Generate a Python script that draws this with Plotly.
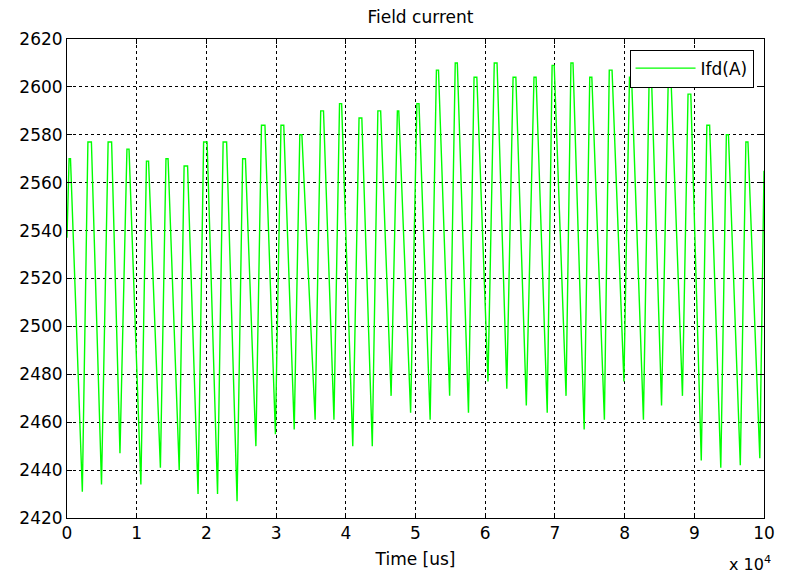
import plotly.graph_objects as go

# Time in units of 1e4 us
start_t = 0.0
start_v = 2537
end_t = 10.0
end_v = 2565

peak_start_t = [0.03, 0.30, 0.59, 0.86, 1.14, 1.42, 1.68, 1.96, 2.24, 2.52, 2.79, 3.07,
                3.34, 3.64, 3.91, 4.19, 4.46, 4.74, 5.02, 5.30, 5.57, 5.84, 6.13, 6.40,
                6.70, 6.96, 7.23, 7.50, 7.78, 8.07, 8.35, 8.63, 8.91, 9.18, 9.46, 9.74]
peak_end_t = [0.05, 0.35, 0.64, 0.89, 1.17, 1.45, 1.73, 2.01, 2.29, 2.56, 2.84, 3.11,
              3.37, 3.68, 3.94, 4.23, 4.50, 4.76, 5.05, 5.33, 5.60, 5.88, 6.17, 6.44,
              6.73, 6.99, 7.26, 7.53, 7.82, 8.10, 8.39, 8.66, 8.95, 9.22, 9.49, 9.77]
peak_val = [2570, 2577, 2577, 2574, 2569, 2570, 2567, 2577, 2577, 2570, 2584, 2584,
            2580, 2590, 2593, 2587, 2590, 2590, 2593, 2607, 2610, 2604, 2610, 2604,
            2604, 2609, 2610, 2604, 2607, 2604, 2600, 2608, 2597, 2584, 2580, 2577]
trough_t = [0.22, 0.495, 0.76, 1.06, 1.34, 1.61, 1.88, 2.16, 2.44, 2.71, 2.99, 3.26,
            3.56, 3.83, 4.10, 4.38, 4.65, 4.93, 5.21, 5.49, 5.76, 6.04, 6.31, 6.59,
            6.89, 7.16, 7.42, 7.71, 7.99, 8.27, 8.53, 8.83, 9.10, 9.38, 9.66, 9.94]
trough_val = [2431, 2434, 2447, 2434, 2441, 2440, 2430, 2430, 2427, 2450, 2455, 2457,
              2461, 2461, 2450, 2450, 2471, 2464, 2461, 2471, 2464, 2477, 2474, 2467,
              2464, 2471, 2457, 2461, 2477, 2461, 2467, 2471, 2444, 2441, 2442, 2445]

x_ticks = [0, 1, 2, 3, 4, 5, 6, 7, 8, 9, 10]
y_ticks = [2420, 2440, 2460, 2480, 2500, 2520, 2540, 2560, 2580, 2600, 2620]

xs = [start_t]
ys = [start_v]
for a, b, pv, tt, tv in zip(peak_start_t, peak_end_t, peak_val, trough_t, trough_val):
    xs += [a, b, tt]
    ys += [pv, pv, tv]
xs.append(end_t)
ys.append(end_v)

font_family = "DejaVu Sans"

fig = go.Figure()
fig.add_trace(go.Scatter(x=xs, y=ys, mode="lines", name="Ifd(A)",
                         line=dict(color="#00ff00", width=1.4)))

axis_common = dict(showline=True, linecolor="black", linewidth=1, mirror="allticks",
                   ticks="inside", ticklen=5, tickcolor="black",
                   showgrid=True, gridcolor="black", gridwidth=1, griddash="3px,3px",
                   zeroline=False, tickfont=dict(family=font_family, size=17, color="black"))

fig.update_xaxes(range=[0, 10], tickvals=x_ticks, ticktext=[str(v) for v in x_ticks],
                 title=dict(text="Time [us]", font=dict(family=font_family, size=17, color="black"),
                            standoff=10),
                 **axis_common)
fig.update_yaxes(range=[2420, 2620], tickvals=y_ticks, ticktext=[str(v) for v in y_ticks],
                 **axis_common)

fig.update_layout(
    width=787, height=580,
    margin=dict(l=67, r=13, t=39, b=62),
    paper_bgcolor="white", plot_bgcolor="white",
    title=dict(text="Field current", x=0.5342, xanchor="center", y=0.97, yanchor="middle",
               font=dict(family=font_family, size=17, color="black")),
    showlegend=True,
    legend=dict(x=0.985, xanchor="right", y=0.978, yanchor="top",
                bgcolor="white", bordercolor="black", borderwidth=1,
                font=dict(family=font_family, size=17, color="black"),
                itemwidth=60),
    annotations=[dict(text="x 10<sup>4</sup>", xref="paper", yref="paper",
                      x=1.013, y=-0.121, xanchor="right", yanchor="bottom", showarrow=False,
                      font=dict(family=font_family, size=16, color="black"))],
)

fig.write_html("out.html")
